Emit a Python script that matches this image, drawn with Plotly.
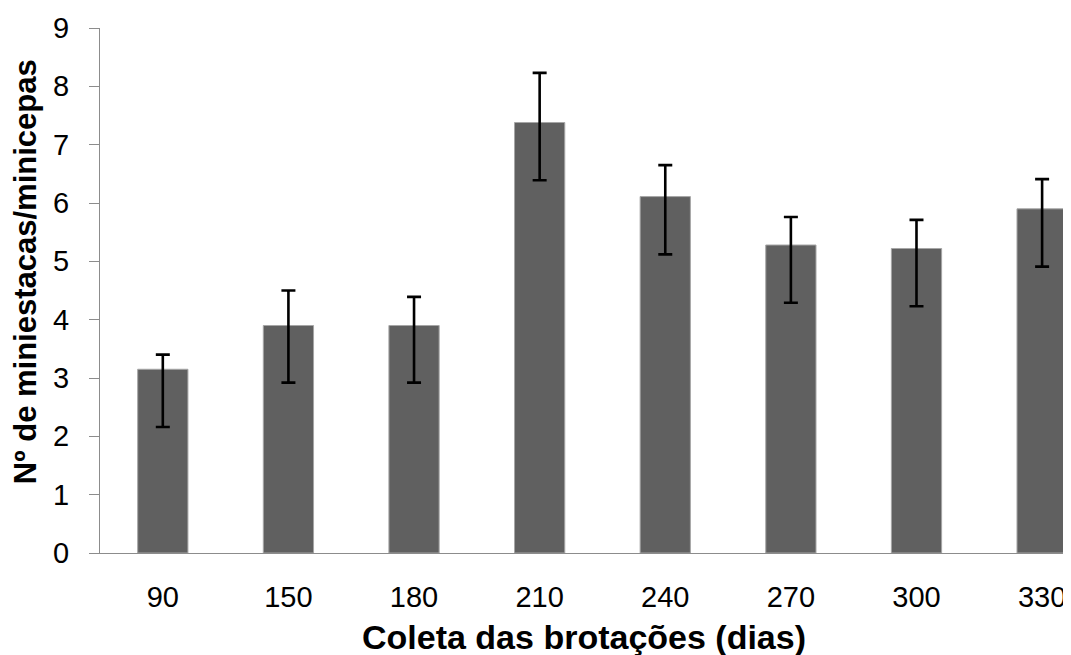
import plotly.graph_objects as go

categories = ["90", "150", "180", "210", "240", "270", "300", "330"]
means = [3.15, 3.90, 3.90, 7.38, 6.11, 5.28, 5.22, 5.90]
upper = [3.40, 4.50, 4.39, 8.23, 6.65, 5.76, 5.71, 6.41]
lower = [2.16, 2.92, 2.92, 6.39, 5.12, 4.29, 4.23, 4.91]
y_ticks = [0, 1, 2, 3, 4, 5, 6, 7, 8, 9]

err_plus = [u - m for u, m in zip(upper, means)]
err_minus = [m - l for m, l in zip(means, lower)]

FONT = "Liberation Sans, Arial, sans-serif"

fig = go.Figure()
fig.add_trace(go.Bar(
    x=list(range(len(categories))),
    y=means,
    width=0.4,
    marker=dict(color="#606060", line=dict(color="#a6a6a6", width=1)),
    error_y=dict(type="data", symmetric=False, array=err_plus, arrayminus=err_minus,
                 color="#000000", thickness=2.6, width=7),
    showlegend=False,
))

fig.update_layout(
    width=1063, height=647,
    margin=dict(l=92, r=0, t=20, b=102),
    paper_bgcolor="white", plot_bgcolor="white",
    font=dict(family=FONT, color="#000000"),
    xaxis=dict(
        tickmode="array", tickvals=list(range(len(categories))), ticktext=categories,
        range=[-0.5, 7.23], showgrid=False, zeroline=False,
        showline=True, linecolor="#8c8c8c", linewidth=1.3,
        ticks="", tickfont=dict(size=29, family=FONT), ticklabelstandoff=18,
    ),
    yaxis=dict(
        range=[0, 9], tickmode="array", tickvals=y_ticks,
        showgrid=False, zeroline=False,
        showline=True, linecolor="#8c8c8c", linewidth=1.3,
        ticks="outside", ticklen=10, tickcolor="#8c8c8c", tickwidth=1.3,
        tickfont=dict(size=29, family=FONT), ticklabelstandoff=14,
    ),
    annotations=[
        dict(text="<b>Nº de miniestacas/minicepas</b>", textangle=-90,
             xref="paper", yref="paper", x=0, y=0.535, xshift=-75,
             xanchor="center", yanchor="middle", showarrow=False,
             font=dict(size=31, family=FONT, color="#000000")),
        dict(text="<b>Coleta das brotações (dias)</b>",
             xref="paper", yref="paper", x=0.498, y=0, yshift=-84,
             xanchor="center", yanchor="middle", showarrow=False,
             font=dict(size=34, family=FONT, color="#000000")),
    ],
)

fig.write_html("out.html")
